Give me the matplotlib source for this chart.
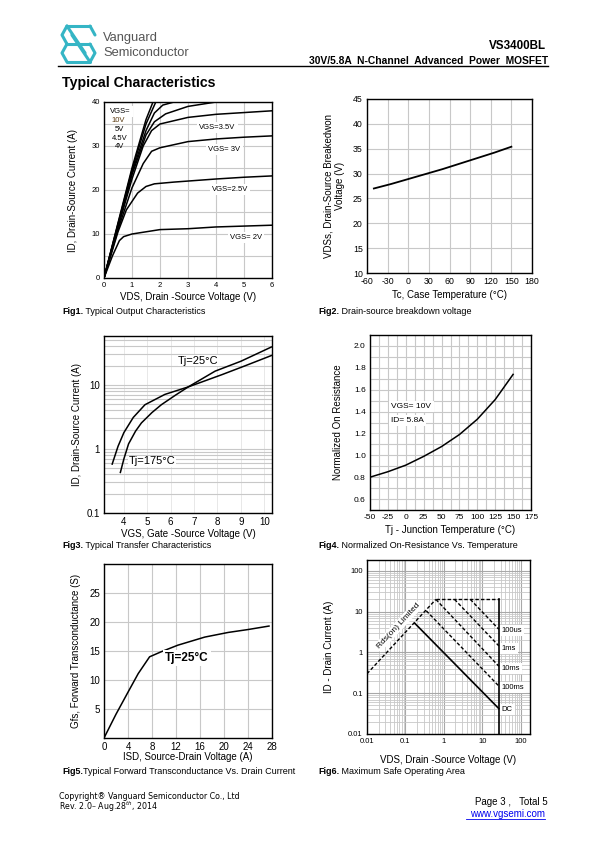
import numpy as np
import matplotlib.pyplot as plt
from matplotlib.ticker import FixedLocator, NullFormatter, LogLocator

plt.rcParams['font.family'] = ['Liberation Sans', 'DejaVu Sans']
plt.rcParams['axes.unicode_minus'] = False
W, H = 595, 842

# ---- Fig1: output characteristics (VDS, ID) ----
vds_10v = [0, 0.5, 1.0, 1.5, 1.75]
id_10v = [0, 12.5, 25, 36, 40]
vds_5v = [0, 0.5, 1.0, 1.5, 1.85]
id_5v = [0, 12.3, 24.5, 35, 40]
vds_45v = [0, 0.5, 1.0, 1.5, 1.8, 2.1, 2.5]
id_45v = [0, 12, 24, 33.5, 37.5, 39.3, 40]
vds_4v = [0, 0.5, 1.0, 1.5, 1.8, 2.2, 3.0, 4.0]
id_4v = [0, 11.8, 23.5, 32.5, 35.5, 37.3, 39, 40]
vds_35v = [0, 0.5, 1.0, 1.4, 1.7, 2.0, 3.0, 4.0, 5.0, 6.0]
id_35v = [0, 11.5, 22.5, 30, 33.5, 35, 36.5, 37.2, 37.6, 38]
vds_3v = [0, 0.5, 1.0, 1.4, 1.7, 2.0, 3.0, 4.0, 5.0, 6.0]
id_3v = [0, 11, 20.5, 26, 28.8, 29.6, 31, 31.6, 32, 32.3]
vds_25v = [0, 0.5, 0.8, 1.2, 1.5, 1.8, 2.5, 4.0, 5.0, 6.0]
id_25v = [0, 10.5, 15.5, 19.3, 20.8, 21.4, 21.8, 22.5, 22.9, 23.2]
vds_2v = [0, 0.3, 0.55, 0.7, 1.0, 1.5, 2.0, 3.0, 4.0, 5.0, 6.0]
id_2v = [0, 5, 8.5, 9.4, 10, 10.5, 11, 11.2, 11.6, 11.8, 12]

# ---- Fig2: breakdown voltage vs case temperature ----
tc = [-50, -25, 0, 25, 50, 75, 100, 125, 150]
bvdss = [27, 27.9, 28.9, 29.9, 30.9, 32, 33.1, 34.2, 35.4]

# ---- Fig3: transfer characteristics ----
vgs_a = [3.5, 3.75, 4.0, 4.4, 4.9, 5.75, 6.75, 8.2, 9.2, 10.3]
id_a = [0.58, 1.1, 1.8, 3.1, 4.9, 7.1, 9.3, 14.5, 20, 28.7]
vgs_b = [3.85, 4.0, 4.2, 4.5, 4.75, 5.2, 5.6, 6.2, 6.75, 7.9, 9.0, 10.3]
id_b = [0.43, 0.7, 1.2, 1.9, 2.55, 3.7, 4.9, 6.9, 9.3, 16.4, 23.4, 39]

# ---- Fig4: normalized on-resistance vs junction temperature ----
tj = [-50, -25, 0, 25, 50, 75, 100, 125, 150]
rdson_norm = [0.80, 0.85, 0.91, 0.99, 1.08, 1.19, 1.33, 1.51, 1.74]

# ---- Fig5: forward transconductance vs drain current ----
isd = [0.1, 2, 4, 5.7, 7.6, 9.6, 12.3, 16.8, 20.7, 24, 27.5]
gfs = [0.2, 4.1, 7.9, 11.1, 14, 14.9, 16, 17.4, 18.2, 18.7, 19.3]

# ---- Fig6: safe operating area ----
rds_v = [0.01, 0.62]
rds_i = [0.3, 20]
lim_v = [0.62, 27, 27]
lim_i = [20, 20, 0.01]
soa_names = ['100us', '1ms', '10ms', '100ms']
soa_v = [[4.9, 27], [1.9, 27], [0.62, 27], [0.35, 27]]
soa_i = [[20, 3.7], [20, 1.45], [20, 0.46], [10.5, 0.15]]
dc_v = [0.175, 27]
dc_i = [5.2, 0.042]
soa_label_i = [3.4, 1.28, 0.41, 0.14, 0.039]

fig = plt.figure(figsize=(W / 100, H / 100), dpi=100)

bg = fig.add_axes([0, 0, 1, 1])
bg.set_xlim(0, W)
bg.set_ylim(H, 0)
bg.axis('off')


def box(x0, y0, x1, y1):
    return fig.add_axes([x0 / W, 1 - y1 / H, (x1 - x0) / W, (y1 - y0) / H])


def style(ax):
    for s in ax.spines.values():
        s.set_linewidth(1.0)
        s.set_color('black')
    ax.tick_params(which='both', length=0, labelsize=6, pad=3)
    ax.set_axisbelow(True)


wbox = dict(facecolor='white', edgecolor='none', pad=1.5)

# header: logo drawn in a unit square, then placed on the page
teal = '#35b5c5'
logo = [[(0.15, 0), (0.85, 0)], [(0.15, 0), (0, 0.25), (0.15, 0.5)], [(0.85, 0), (1, 0.25)],
        [(0.15, 0), (0.7, 0.75)], [(0.3, 0.25), (0.85, 1)], [(0.15, 0.5), (0.85, 0.5)],
        [(0.15, 1), (0.85, 1)], [(0.85, 0.5), (1, 0.75), (0.85, 1)],
        [(0.15, 0.5), (0, 0.75), (0.15, 1)]]
for seg in logo:
    xs, ys = zip(*seg)
    bg.plot([62 + 33 * x for x in xs], [26 + 36 * y for y in ys], color=teal, lw=2.2,
            solid_capstyle='round')
bg.text(103, 38, 'Vanguard', fontsize=9.3, color='#555555', va='center')
bg.text(103, 53, 'Semiconductor', fontsize=9.3, color='#555555', va='center')
bg.text(546, 46, 'VS3400BL', fontsize=8.4, fontweight='bold', ha='right', va='center')
bg.text(548, 61, '30V/5.8A  N-Channel  Advanced  Power  MOSFET', fontsize=7.4,
        fontweight='bold', ha='right', va='center')
bg.plot([58, 548], [66, 66], color='black', lw=1.0)
bg.text(62, 83, 'Typical Characteristics', fontsize=10.2, fontweight='bold', va='center')

# ---------------- Fig1 ----------------
ax1 = box(104, 102, 272, 278)
style(ax1)
for v, i in [(vds_10v, id_10v), (vds_5v, id_5v), (vds_45v, id_45v), (vds_4v, id_4v),
             (vds_35v, id_35v), (vds_3v, id_3v), (vds_25v, id_25v), (vds_2v, id_2v)]:
    ax1.plot(v, i, color='black', lw=1.1)
ax1.set_xlim(0, 6)
ax1.set_ylim(0, 40)
ax1.set_xticks(range(0, 7))
ax1.set_yticks([0, 10, 20, 30, 40])
ax1.yaxis.set_minor_locator(FixedLocator([5, 15, 25, 35]))
ax1.grid(which='both', color='#c8c8c8', lw=0.8)
ax1.tick_params(labelsize=5.5)
ax1.text(0.22, 37.8, 'VGS=', fontsize=5.5, va='center', bbox=wbox)
ax1.text(0.28, 35.8, '10V', fontsize=5.5, va='center', color='#5a3a10')
ax1.text(0.38, 33.8, '5V', fontsize=5.5, va='center')
ax1.text(0.28, 31.8, '4.5V', fontsize=5.5, va='center')
ax1.text(0.38, 29.8, '4V', fontsize=5.5, va='center')
ax1.text(4.05, 34.3, 'VGS=3.5V', fontsize=5.5, ha='center', va='center', bbox=wbox)
ax1.text(4.3, 29.3, 'VGS= 3V', fontsize=5.5, ha='center', va='center', bbox=wbox)
ax1.text(4.5, 20.2, 'VGS=2.5V', fontsize=5.5, ha='center', va='center', bbox=wbox)
ax1.text(5.07, 9.3, 'VGS= 2V', fontsize=5.5, ha='center', va='center', bbox=wbox)
ax1.set_xlabel('VDS, Drain -Source Voltage (V)', fontsize=7, labelpad=2)
ax1.set_ylabel('ID, Drain-Source Current (A)', fontsize=7, labelpad=10)

# ---------------- Fig2 ----------------
ax2 = box(367, 99, 532, 273)
style(ax2)
ax2.plot(tc, bvdss, color='black', lw=1.3)
ax2.set_xlim(-60, 180)
ax2.set_ylim(10, 45)
ax2.set_xticks(range(-60, 181, 30))
ax2.set_yticks(range(10, 46, 5))
ax2.grid(color='#c8c8c8', lw=0.8)
ax2.tick_params(labelsize=6.3)
ax2.set_xlabel('Tc, Case Temperature (\u00b0C)', fontsize=7, labelpad=3)
ax2.set_ylabel('VDSs, Drain-Source Breakedwon\nVoltage (V)', fontsize=7, labelpad=6)

# ---------------- Fig3 ----------------
ax3 = box(104, 336, 272, 513)
style(ax3)
ax3.set_yscale('log')
ax3.plot(vgs_a, id_a, color='black', lw=1.1)
ax3.plot(vgs_b, id_b, color='black', lw=1.1)
ax3.set_xlim(3.15, 10.33)
ax3.set_ylim(0.1, 58)
ax3.set_xticks(range(4, 11))
ax3.set_yticks([0.1, 1, 10])
ax3.set_yticklabels(['0.1', '1', '10'])
ax3.yaxis.set_minor_locator(LogLocator(base=10, subs=np.arange(2, 10)))
ax3.yaxis.set_minor_formatter(NullFormatter())
ax3.grid(which='both', axis='y', color='#c8c8c8', lw=0.8)
ax3.grid(which='major', axis='x', color='#e4e4e4', lw=0.6)
ax3.tick_params(labelsize=7, which='both', length=0)
ax3.text(7.18, 24, 'Tj=25\u00b0C', fontsize=8, ha='center', va='center',
         bbox=dict(facecolor='white', edgecolor='none', pad=0.3))
ax3.text(5.2, 0.64, 'Tj=175\u00b0C', fontsize=8, ha='center', va='center',
         bbox=dict(facecolor='white', edgecolor='none', pad=0.3))
ax3.set_xlabel('VGS, Gate -Source Voltage (V)', fontsize=7, labelpad=1)
ax3.set_ylabel('ID, Drain-Source Current (A)', fontsize=7, labelpad=3)

# ---------------- Fig4 ----------------
ax4 = box(370, 335, 531, 510)
style(ax4)
ax4.plot(tj, rdson_norm, color='black', lw=1.1)
ax4.set_xlim(-50, 175)
ax4.set_ylim(0.5, 2.1)
ax4.set_xticks(range(-50, 176, 25))
ax4.set_yticks([0.6, 0.8, 1.0, 1.2, 1.4, 1.6, 1.8, 2.0])
ax4.set_yticklabels(['0.6', '0.8', '1.0', '1.2', '1.4', '1.6', '1.8', '2.0'])
ax4.xaxis.set_minor_locator(FixedLocator(np.arange(-37.5, 175, 25)))
ax4.yaxis.set_minor_locator(FixedLocator(np.arange(0.5, 2.1, 0.2)))
ax4.grid(which='both', color='#c8c8c8', lw=0.8)
ax4.text(-20, 1.45, 'VGS= 10V', fontsize=6, va='center', bbox=wbox)
ax4.text(-20, 1.32, 'ID= 5.8A', fontsize=6, va='center', bbox=wbox)
ax4.set_xlabel('Tj - Junction Temperature (\u00b0C)', fontsize=7, labelpad=3)
ax4.set_ylabel('Normalized On Resistance', fontsize=7, labelpad=8)

# ---------------- Fig5 ----------------
ax5 = box(104, 564, 272, 738)
style(ax5)
ax5.plot(isd, gfs, color='black', lw=1.1)
ax5.set_xlim(0, 28)
ax5.set_ylim(0, 30)
ax5.set_xticks(range(0, 29, 4))
ax5.set_yticks([5, 10, 15, 20, 25])
ax5.grid(color='#c8c8c8', lw=0.8)
ax5.tick_params(labelsize=7)
ax5.text(13.8, 13.8, 'Tj=25\u00b0C', fontsize=8.5, fontweight='bold', ha='center',
         va='center', bbox=wbox)
ax5.set_xlabel('ISD, Source-Drain Voltage (A)', fontsize=7, labelpad=0)
ax5.set_ylabel('Gfs, Forward Transconductance (S)', fontsize=7, labelpad=6)

# ---------------- Fig6 ----------------
ax6 = box(367, 560, 530, 734)
style(ax6)
ax6.set_xscale('log')
ax6.set_yscale('log')
ax6.set_xlim(0.01, 175)
ax6.set_ylim(0.01, 185)
ax6.plot(rds_v, rds_i, color='black', lw=1.0, ls=(0, (2.5, 1.5)))
ax6.plot(lim_v[:2], lim_i[:2], color='black', lw=1.0, ls=(0, (2.5, 1.5)))
ax6.plot(lim_v[1:], lim_i[1:], color='black', lw=1.2)
for v, i in zip(soa_v, soa_i):
    ax6.plot(v, i, color='black', lw=1.0, ls=(0, (2.5, 1.5)))
ax6.plot(dc_v, dc_i, color='black', lw=1.2)
for name, yi in zip(soa_names + ['DC'], soa_label_i):
    ax6.text(32, yi, name, fontsize=5.5, va='center', bbox=wbox)
ax6.text(0.065, 4.4, 'Rds(on) Limited', fontsize=6, rotation=47, ha='center',
         va='center', bbox=dict(facecolor='white', edgecolor='none', pad=1))
ax6.set_xticks([0.01, 0.1, 1, 10, 100])
ax6.set_xticklabels(['0.01', '0.1', '1', '10', '100'])
ax6.set_yticks([0.01, 0.1, 1, 10, 100])
ax6.set_yticklabels(['0.01', '0.1', '1', '10', '100'])
for a in (ax6.xaxis, ax6.yaxis):
    a.set_minor_locator(LogLocator(base=10, subs=np.arange(2, 10)))
    a.set_minor_formatter(NullFormatter())
ax6.grid(which='major', color='#a8a8a8', lw=0.8)
ax6.grid(which='minor', color='#c8c8c8', lw=0.6)
ax6.tick_params(which='both', length=0, labelsize=5.5)
ax6.set_xlabel('VDS, Drain -Source Voltage (V)', fontsize=7, labelpad=7)
ax6.set_ylabel('ID - Drain Current (A)', fontsize=7, labelpad=10)

# captions
caps = [(62, 312, 'Fig1.', ' Typical Output Characteristics'),
        (318, 312, 'Fig2.', ' Drain-source breakdown voltage'),
        (62, 546, 'Fig3.', ' Typical Transfer Characteristics'),
        (318, 546, 'Fig4.', ' Normalized On-Resistance Vs. Temperature'),
        (62, 772, 'Fig5.', 'Typical Forward Transconductance Vs. Drain Current'),
        (318, 772, 'Fig6.', ' Maximum Safe Operating Area')]
for x, y, b, t in caps:
    tb = bg.text(x, y, b, fontsize=6.5, fontweight='bold', va='center')
    bg.annotate(t, xycoords=tb, xy=(1, 0.5), va='center', fontsize=6.5)

# footer
bg.text(59, 796.5, 'Copyright\u00ae Vanguard Semiconductor Co., Ltd', fontsize=5.7,
        va='center', family='DejaVu Sans')
bg.text(59, 807, 'Rev. 2.0\u2013 Aug.28$^{th}$, 2014', fontsize=5.7, va='center',
        family='DejaVu Sans')
bg.text(548, 802, 'Page 3 ,   Total 5', fontsize=7, ha='right', va='center')
bg.text(545, 814, 'www.vgsemi.com', fontsize=7, ha='right', va='center', color='#0000ee')
bg.plot([466, 545], [819, 819], color='#0000ee', lw=0.6)

fig.savefig('out.png', dpi=100)
